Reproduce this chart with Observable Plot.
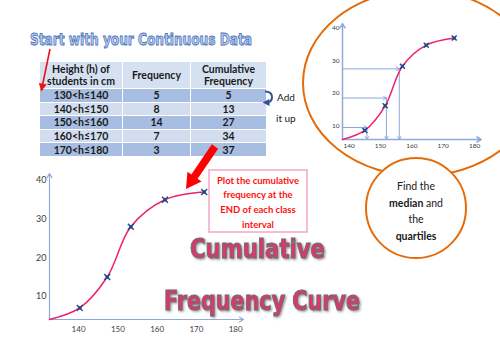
<!DOCTYPE html>
<html><head><meta charset="utf-8">
<script src="https://cdn.jsdelivr.net/npm/d3@7"></script>
<script src="https://cdn.jsdelivr.net/npm/@observablehq/plot@0.6"></script>
<style>
body{margin:0;background:#fff;}
#wrap{position:relative;width:500px;height:354px;overflow:hidden;background:#fff;font-family:Lato,"Open Sans",sans-serif;}
.abs{position:absolute;}
table.ft{border-collapse:collapse;table-layout:fixed;width:227px;font-family:Lato,sans-serif;font-weight:bold;font-size:10.5px;color:#1a1a1a;}
table.ft td{border:1px solid #fff;padding:0;text-align:center;line-height:12px;}
svg.ov{position:absolute;left:0;top:0;pointer-events:none;}
</style></head><body><div id="wrap"></div>
<script>
// ---------- data ----------
const headers = ["Height (h) of\nstudents in cm", "Frequency", "Cumulative\nFrequency"];
const classes = ["130<h≤140", "140<h≤150", "150<h≤160", "160<h≤170", "170<h≤180"];
const frequency = [5, 8, 14, 7, 3];
const cumulative = [5, 13, 27, 34, 37];

// main chart
const mainX = [140.3, 147.3, 153.3, 162.0, 172.0];
const mainY = [7, 15, 28, 35, 37];
const mainStart = {x: 132.6, y: 4};
const mainXDomain = [132.6, 182];
const mainYDomain = [4, 41.8];
const mainXTicks = [140, 150, 160, 170, 180];
const mainYTicks = [10, 20, 30, 40];

// inset chart
const insetX = [145.0, 151.5, 157.0, 164.6, 173.5];
const insetY = [8.5, 16.1, 28.3, 34.8, 37];
const insetStart = {x: 137.9, y: 5.7};
const insetXDomain = [137.9, 182.1];
const insetYDomain = [5.7, 41.5];
const insetXTicks = [140, 150, 160, 170, 180];
const insetYTicks = [10, 20, 30, 40];
const guideX = [145.7, 151.9, 156.0];
const guideY = [9.4, 18.5, 27.5];

// texts
const titleText = "Start with your Continuous Data";
const addText = ["Add", "it up"];
const noteLines = ["Plot the cumulative", "frequency at the", "END of each class", "interval"];
const bigTitle = ["Cumulative", "Frequency Curve"];
const circleLines = [[["Find the", false]], [["median", true], [" and", false]], [["the", false]], [["quartiles", true]]];

// ---------- table ----------
const wrap = d3.select("#wrap");
const tbl = wrap.append("table").attr("class", "abs ft").style("left", "39px").style("top", "61px");
const cg = tbl.append("colgroup");
[83, 68, 76].forEach(w => cg.append("col").style("width", w + "px"));
const hr = tbl.append("tr").style("height", "27px").style("background", "#d5e1f1");
headers.forEach(h => hr.append("td").html(h.replace("\n", "<br>")));
classes.forEach((c, i) => {
  const tr = tbl.append("tr").style("height", "13.6px").style("background", i % 2 === 0 ? "#a7bde1" : "#d2def0");
  [c, frequency[i], cumulative[i]].forEach(v => tr.append("td").text(v));
});

// ---------- charts ----------
const pink = "#f01f73", blue = "#2f5597", axisBlue = "#8eaadb";
function chart(opts) {
  const pts = opts.xs.map((x, i) => ({x, y: opts.ys[i]}));
  const line = [opts.start, ...pts];
  const [x0, x1] = opts.xd, [y0, y1] = opts.yd;
  const axes = [{x1: x0, y1: y0, x2: x1, y2: y0}, {x1: x0, y1: y0, x2: x0, y2: y1}];
  const marks = [
    Plot.axisX(opts.xt, {tickSize: 0, tickPadding: opts.xpad, fontSize: opts.xfs, label: null}),
    Plot.axisY(opts.yt, {tickSize: 0, tickPadding: 3, fontSize: opts.yfs, label: null}),
  ];
  if (opts.gx) {
    const g = opts.gx.map((x, i) => ({x, y: opts.gy[i]}));
    marks.push(Plot.arrow(g, {x1: () => x0, y1: "y", x2: "x", y2: "y", stroke: axisBlue, strokeWidth: 1, headLength: 5}));
    marks.push(Plot.arrow(g, {x1: "x", y1: "y", x2: "x", y2: () => y0, stroke: axisBlue, strokeWidth: 1, headLength: 5}));
  }
  marks.push(
    Plot.arrow(axes, {x1: "x1", y1: "y1", x2: "x2", y2: "y2", stroke: axisBlue, strokeWidth: opts.aw, headLength: opts.hl}),
    Plot.line(line, {x: "x", y: "y", curve: "catmull-rom", stroke: pink, strokeWidth: 1.5}),
    Plot.dot(pts, {x: "x", y: "y", symbol: "square", r: opts.r * 0.75, fill: "#4a70b2"}),
    Plot.dot(pts, {x: "x", y: "y", symbol: "times", r: opts.r, stroke: "#24467f", strokeWidth: 1.4})
  );
  return Plot.plot({
    width: opts.w, height: opts.h,
    marginLeft: opts.ml, marginRight: opts.mr, marginTop: opts.mt, marginBottom: opts.mb,
    x: {domain: opts.xd}, y: {domain: opts.yd},
    style: {background: "transparent", color: "#404040", fontFamily: "Lato, sans-serif", overflow: "visible"},
    marks
  });
}
const mainSvg = chart({xs: mainX, ys: mainY, start: mainStart, xd: mainXDomain, yd: mainYDomain, xt: mainXTicks, yt: mainYTicks,
  w: 260, h: 190, ml: 49, mr: 17, mt: 13, mb: 31, xpad: 7, xfs: 8, yfs: 9, aw: 1.2, hl: 6, r: 2.8});
wrap.append("div").attr("class", "abs").style("left", "0px").style("top", "160px").node().appendChild(mainSvg);

const insetSvg = chart({xs: insetX, ys: insetY, start: insetStart, xd: insetXDomain, yd: insetYDomain, xt: insetXTicks, yt: insetYTicks,
  gx: guideX, gy: guideY,
  w: 190, h: 160, ml: 42, mr: 9.3, mt: 23, mb: 21, xpad: 4, xfs: 6.5, yfs: 6.5, aw: 1.5, hl: 5, r: 2.4});
wrap.append("div").attr("class", "abs").style("left", "300px").style("top", "0px").node().appendChild(insetSvg);

// ---------- overlay ----------
const ov = wrap.append("svg").attr("class", "ov").attr("width", 500).attr("height", 354);
const defs = ov.append("defs");
defs.append("marker").attr("id", "rh").attr("viewBox", "0 0 10 10").attr("refX", 8).attr("refY", 5)
  .attr("markerWidth", 5).attr("markerHeight", 5).attr("orient", "auto")
  .append("path").attr("d", "M0,0L10,5L0,10z").attr("fill", "#e8141b");
defs.append("marker").attr("id", "bh").attr("viewBox", "0 0 10 10").attr("refX", 5).attr("refY", 5)
  .attr("markerWidth", 3.5).attr("markerHeight", 3.5).attr("orient", "auto")
  .append("path").attr("d", "M0,0L10,5L0,10z").attr("fill", blue);
const f = defs.append("filter").attr("id", "sh").attr("x", "-10%").attr("y", "-20%").attr("width", "120%").attr("height", "150%");
f.append("feDropShadow").attr("dx", 1.2).attr("dy", 1.2).attr("stdDeviation", 0.8).attr("flood-color", "#777").attr("flood-opacity", 0.8);

// title
ov.append("text").attr("x", 30).attr("y", 45).attr("textLength", 222).attr("lengthAdjust", "spacingAndGlyphs")
  .attr("font-family", "DejaVu Sans").attr("font-weight", "bold").attr("font-size", 16)
  .attr("fill", "#bccdea").attr("stroke", "#4a74be").attr("stroke-width", 0.9).text(titleText);
// thin red arrow
ov.append("line").attr("x1", 50).attr("y1", 49).attr("x2", 41.5).attr("y2", 90)
  .attr("stroke", "#e8141b").attr("stroke-width", 1.6).attr("marker-end", "url(#rh)");

// add it up
ov.append("path").attr("d", "M265,91.5 Q272,91.5 272,97 Q272,102.5 266,102.5").attr("fill", "none")
  .attr("stroke", blue).attr("stroke-width", 2).attr("marker-end", "url(#bh)");
ov.append("text").attr("x", 277).attr("y", 101).attr("font-size", 10).attr("fill", "#1a1a1a").text(addText[0]);
ov.append("text").attr("x", 276).attr("y", 122).attr("font-size", 10).attr("fill", "#1a1a1a").text(addText[1]);

// big red arrow
function arrowPoly(x1, y1, x2, y2, sw, hw, hl) {
  const dx = x2 - x1, dy = y2 - y1, L = Math.hypot(dx, dy), ux = dx / L, uy = dy / L, nx = -uy, ny = ux;
  const bx = x2 - ux * hl, by = y2 - uy * hl;
  const p = [[x1 + nx * sw, y1 + ny * sw], [bx + nx * sw, by + ny * sw], [bx + nx * hw, by + ny * hw], [x2, y2],
    [bx - nx * hw, by - ny * hw], [bx - nx * sw, by - ny * sw], [x1 - nx * sw, y1 - ny * sw]];
  return p.map(q => q.join(",")).join(" ");
}
ov.append("polygon").attr("points", arrowPoly(215, 146.5, 186, 189, 3.8, 8.5, 15)).attr("fill", "#f00");

// note box
ov.append("rect").attr("x", 209).attr("y", 170).attr("width", 98).attr("height", 62)
  .attr("fill", "#fff").attr("stroke", "#f6a5c6").attr("stroke-width", 1.5);
noteLines.forEach((t, i) => ov.append("text").attr("x", 258).attr("y", 183.5 + i * 14.8).attr("text-anchor", "middle")
  .attr("font-family", "Lato, sans-serif").attr("font-size", 9.5).attr("font-weight", "bold").attr("fill", "#ff1010").text(t));

// big title
[[190, 258, 135], [164, 310, 196]].forEach(([x, y, tl], i) =>
  ov.append("text").attr("x", x).attr("y", y).attr("textLength", tl).attr("lengthAdjust", "spacingAndGlyphs")
    .attr("font-family", "DejaVu Sans").attr("font-weight", "bold").attr("font-size", 26)
    .attr("fill", "#de3470").attr("stroke", "#6e6e6e").attr("stroke-width", 1.1).attr("filter", "url(#sh)").text(bigTitle[i]));

// ellipse + circle
ov.append("ellipse").attr("cx", 420).attr("cy", 83).attr("rx", 117).attr("ry", 93)
  .attr("fill", "none").attr("stroke", "#e46c0a").attr("stroke-width", 2);
ov.append("circle").attr("cx", 416).attr("cy", 208).attr("r", 50)
  .attr("fill", "#fff").attr("stroke", "#e46c0a").attr("stroke-width", 2);
circleLines.forEach((parts, i) => {
  const t = ov.append("text").attr("x", 416).attr("y", 190 + i * 16.5).attr("text-anchor", "middle")
    .attr("font-family", "Lato, sans-serif").attr("font-size", 10.5).attr("fill", "#1a1a1a");
  parts.forEach(([s, b]) => t.append("tspan").attr("font-weight", b ? "bold" : "normal").text(s));
});
</script></body></html>
